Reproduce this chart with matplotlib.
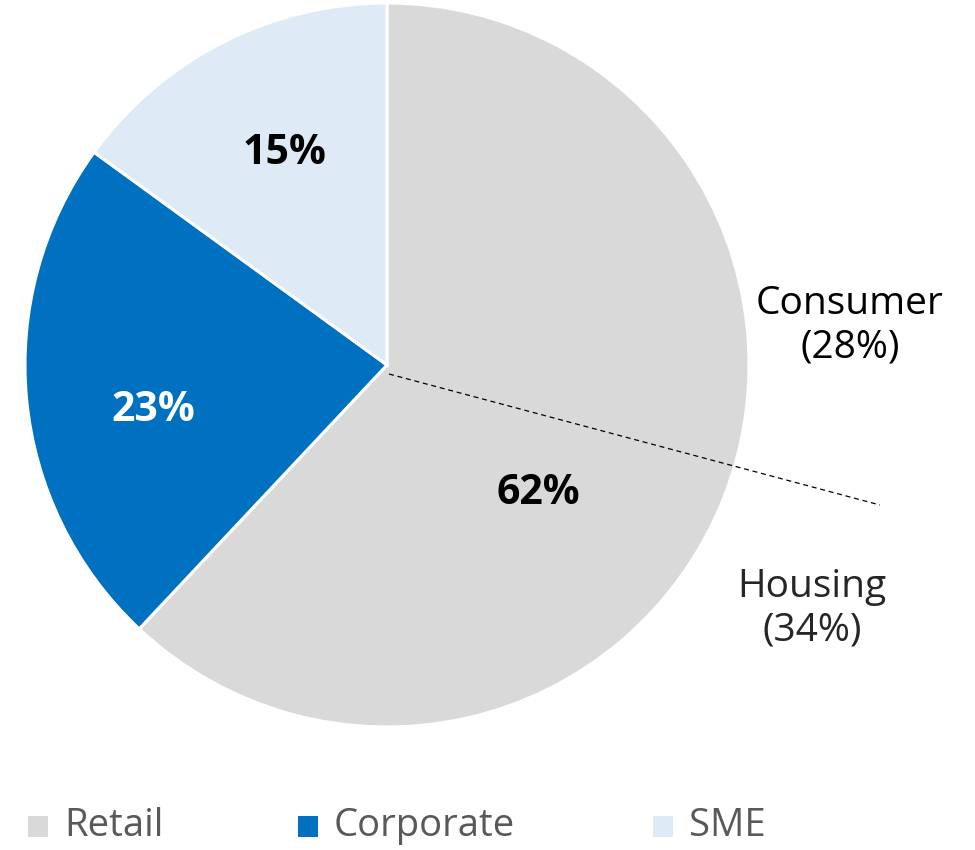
import matplotlib
matplotlib.use('Agg')
import matplotlib.pyplot as plt
from matplotlib.patches import Rectangle

# Loan mix data
SEGMENTS = ['Retail', 'Corporate', 'SME']
SHARES = [62, 23, 15]
COLORS = ['#d9d9d9', '#0070c0', '#deeaf6']
PCT_COLORS = ['black', 'white', 'black']
RETAIL_SPLIT = ['Consumer\n(28%)', 'Housing\n(34%)']

plt.rcParams['font.family'] = ['Open Sans', 'DejaVu Sans']

W, H = 975, 850
fig = plt.figure(figsize=(W / 100, H / 100), dpi=100)
ax = fig.add_axes([0, 0, 1, 1])
ax.set_xlim(0, W)
ax.set_ylim(0, H)
ax.set_aspect('equal')
ax.axis('off')

cx, cy, r = 387, H - 365, 362
wedges, _ = ax.pie(SHARES, colors=COLORS, startangle=90, counterclock=False,
                   center=(cx, cy), radius=r,
                   wedgeprops=dict(edgecolor='white', linewidth=2.2))
ax.set_xlim(0, W)
ax.set_ylim(0, H)

# percentage labels
pct_pos = [(538, H - 493), (153, H - 410), (284, H - 153)]
for (x, y), s, c in zip(pct_pos, SHARES, PCT_COLORS):
    ax.text(x, y, f'{s}%', ha='center', va='center', fontsize=29.5,
            fontweight='bold', color=c)

# split of retail into consumer / housing
ax.plot([cx + 2, 880], [H - 374, H - 505], color='black', lw=0.9,
        ls=(0, (4, 3)))
ax.text(850, H - 326, RETAIL_SPLIT[0], ha='center', va='center',
        fontsize=28, color='black', linespacing=1.2)
ax.text(812, H - 609, RETAIL_SPLIT[1], ha='center', va='center',
        fontsize=28, color='#262626', linespacing=1.2)

# legend drawn by hand to match spacing
leg_x = [28, 298, 653]
for x, name, c in zip(leg_x, SEGMENTS, COLORS):
    ax.add_patch(Rectangle((x, H - 837), 20, 21, facecolor=c, edgecolor='none'))
    ax.text(x + 36, H - 826, name, ha='left', va='center', fontsize=27.5,
            color='#595959')

fig.savefig('out.png', dpi=100)
